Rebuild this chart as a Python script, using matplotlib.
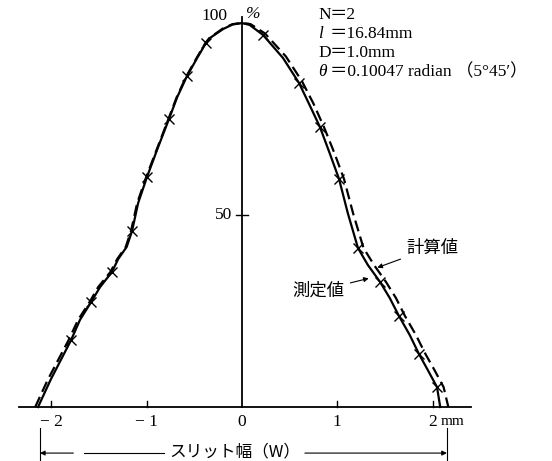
import matplotlib.pyplot as plt

serif = ['Liberation Serif', 'Noto Sans CJK JP']
jp = ['Noto Sans CJK JP', 'DejaVu Sans']

# measured profile (mm, %)
x_meas = [-2.14, -2.01, -1.794, -1.70, -1.584, -1.49, -1.364, -1.30, -1.21,
          -1.154, -1.09, -0.997, -0.88, -0.766, -0.68, -0.577, -0.47, -0.378,
          -0.336, -0.20, -0.10, 0.0, 0.08, 0.22, 0.43, 0.598, 0.71, 0.818,
          0.92, 1.018, 1.11, 1.217, 1.32, 1.448, 1.55, 1.647, 1.76, 1.857,
          1.95, 2.046, 2.08]
y_meas = [0.0, 7.0, 17.4, 22.7, 27.3, 31.2, 35.2, 38.5, 41.7,
          45.8, 53.1, 59.9, 67.7, 75.0, 80.7, 86.2, 90.9, 94.8,
          96.1, 98.4, 99.6, 100.0, 99.5, 96.9, 90.9, 84.4, 78.6, 72.9,
          66.1, 59.4, 50.5, 41.4, 37.0, 32.6, 28.4, 23.7, 18.75, 13.8,
          9.6, 5.2, 0.0]

# measured points (crosses)
x_pts = [-1.794, -1.584, -1.364, -1.154, -0.997, -0.766, -0.577, -0.378,
         0.22, 0.598, 0.818, 1.018, 1.217, 1.448, 1.647, 1.857, 2.046]
y_pts = [17.4, 27.3, 35.2, 45.8, 59.9, 75.0, 86.2, 94.8,
         96.9, 84.4, 72.9, 59.4, 41.4, 32.6, 23.7, 13.8, 5.2]

# calculated profile
x_calc = [-2.17, -2.04, -1.82, -1.72, -1.60, -1.51, -1.38, -1.31, -1.22,
          -1.165, -1.10, -1.005, -0.885, -0.772, -0.685, -0.582, -0.476, -0.384,
          -0.342, -0.205, -0.10, 0.0, 0.09, 0.24, 0.46, 0.63, 0.75, 0.86,
          0.97, 1.07, 1.165, 1.275, 1.385, 1.51, 1.615, 1.71, 1.825, 1.925,
          2.02, 2.115, 2.165]
y_calc = [0.0, 7.0, 17.4, 22.7, 27.3, 31.2, 35.2, 38.5, 41.7,
          45.8, 53.1, 59.9, 67.7, 75.0, 80.7, 86.2, 90.9, 94.8,
          96.1, 98.5, 99.7, 100.0, 99.7, 97.3, 91.3, 84.8, 79.0, 72.9,
          66.1, 59.4, 50.5, 41.4, 37.0, 32.6, 28.4, 23.7, 18.75, 13.8,
          9.6, 5.2, 0.0]

xticks = [-2, -1, 0, 1, 2]
xtick_labels = ['− 2', '− 1', '0', '1', '2']
yticks = [50, 100]

# parameter block: (symbol, italic?, rest of line)
param_sym = ['N', 'l', 'D', 'θ']
param_italic = [False, True, False, True]
param_text = ['＝2', '＝16.84mm', '＝1.0mm', '＝0.10047 radian （5°45′）']

fig = plt.figure(figsize=(5.52, 4.61), dpi=100)
ax = fig.add_axes([0, 0, 1, 1])
ax.set_xlim(-242 / 95.3, (552 - 242) / 95.3)
ax.set_ylim(-54 / 3.84, 407 / 3.84)
ax.axis('off')

# axes
ax.plot([-2.34, 2.40], [0, 0], color='black', lw=1.3)
ax.plot([0, 0], [0, 101.5], color='black', lw=1.3)
for t in xticks:
    if t != 0:
        ax.plot([t, t], [0, 1.6], color='black', lw=1.0)
for t in yticks:
    ax.plot([-0.06, 0.06], [t, t], color='black', lw=1.0)

for t, lab in zip(xticks, xtick_labels):
    ax.text(t, -1.8, lab, ha='center', va='top', fontsize=12.5, family=serif)
ax.text(2.08, -2.2, 'mm', ha='left', va='top', fontsize=11, family=serif)
ax.text(-0.10, 50, '50', ha='right', va='center', fontsize=12.5, family=serif)
ax.text(-0.15, 101.8, '100', ha='right', va='center', fontsize=12.5,
        family=serif)
ax.text(0.04, 102.3, '%', ha='left', va='center', fontsize=12.5, family=serif,
        style='italic')

# curves
ax.plot(x_calc, y_calc, color='black', lw=1.6, ls=(0, (5, 2.5)))
ax.plot(x_meas, y_meas, color='black', lw=1.6)
ax.plot(x_pts, y_pts, ls='none', marker='x', color='black', ms=6.5, mew=1.0)

# parameters
for i, (sym, it, txt) in enumerate(zip(param_sym, param_italic, param_text)):
    yy = 102.0 - i * 4.9
    ax.text(0.80, yy, sym, ha='left', va='center', fontsize=12.5,
            family=serif, style='italic' if it else 'normal')
    ax.text(0.92, yy, txt, ha='left', va='center', fontsize=12.5,
            family=serif)

# labels for the two curves
ax.annotate('計算値', xy=(1.42, 36.3), xytext=(1.72, 41.5), fontsize=12.5,
            family=jp, ha='left', va='center',
            arrowprops=dict(arrowstyle='-|>', color='black', lw=0.8,
                            mutation_scale=7, shrinkA=2, shrinkB=0))
ax.annotate('測定値', xy=(1.33, 33.5), xytext=(1.08, 30.3), fontsize=12.5,
            family=jp, ha='right', va='center',
            arrowprops=dict(arrowstyle='-|>', color='black', lw=0.8,
                            mutation_scale=7, shrinkA=2, shrinkB=0))

# slit width dimension
xl, xr = -2.12, 2.15
yd = -12.0
ax.plot([xl, xl], [-5.5, -14.5], color='black', lw=0.8)
ax.plot([xr, xr], [-5.5, -14.5], color='black', lw=0.8)
ax.annotate('', xy=(xl, yd), xytext=(-1.77, yd),
            arrowprops=dict(arrowstyle='-|>', color='black', lw=0.8,
                            mutation_scale=7, shrinkA=0, shrinkB=0))
ax.plot([-1.66, -0.82], [yd, yd], color='black', lw=0.8)
ax.annotate('', xy=(xr, yd), xytext=(0.66, yd),
            arrowprops=dict(arrowstyle='-|>', color='black', lw=0.8,
                            mutation_scale=7, shrinkA=0, shrinkB=0))
ax.text(-0.08, -11.7, 'スリット幅（W）', ha='center', va='center', fontsize=12,
        family=jp)

fig.savefig('out.png', dpi=100)
